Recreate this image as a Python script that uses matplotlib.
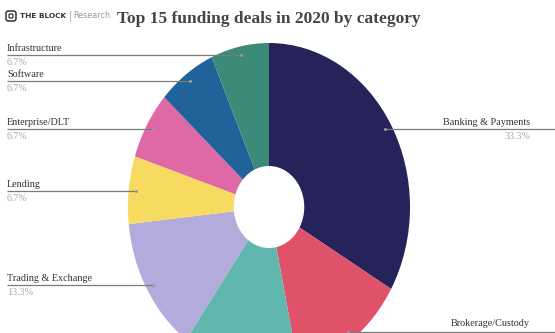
import matplotlib
matplotlib.use("Agg")
import matplotlib.pyplot as plt
import numpy as np
from matplotlib.patches import FancyBboxPatch

# Deal counts per category (15 deals in total), clockwise from 12 o'clock
categories = ["Banking & Payments", "Brokerage/Custody", "", "Trading & Exchange",
              "Lending", "Enterprise/DLT", "Software", "Infrastructure"]
deals = [5, 2, 2, 2, 1, 1, 1, 1]
pct_labels = ["33.3%", "13.3%", "13.3%", "13.3%", "6.7%", "6.7%", "6.7%", "6.7%"]
colors = ["#26235a", "#df526a", "#5fb7ae", "#b2abdc", "#f7da60",
          "#df68a7", "#20629a", "#3c8a78"]

W, H = 555, 333
fig = plt.figure(figsize=(W / 100, H / 100), dpi=100)
fig.patch.set_facecolor("white")

# Donut axes: slightly taller than wide, running off the bottom edge
cx, cy, rx, ry = 269, 207, 141, 164
ax = fig.add_axes([(cx - rx) / W, (H - cy - ry) / H, 2 * rx / W, 2 * ry / H])
wedges, _ = ax.pie(deals, colors=colors, startangle=90, counterclock=False,
                   radius=1, wedgeprops=dict(width=0.75, linewidth=0))
ax.set_aspect("auto")
ax.set_xlim(-1, 1)
ax.set_ylim(-1, 1)
ax.axis("off")

# Overlay in pixel coordinates (y measured from the top)
ov = fig.add_axes([0, 0, 1, 1])
ov.set_xlim(0, W)
ov.set_ylim(H, 0)
ov.axis("off")
ov.patch.set_alpha(0)

serif = ["Liberation Serif", "DejaVu Serif"]
name_col, pct_col, line_col = "#333333", "#a8a8a8", "#7a7a7a"

def to_px(x, y):
    dx, dy = ax.transData.transform((x, y))
    return dx, H - dy

total = sum(deals)
start = 90.0
for name, n, pct in zip(categories, deals, pct_labels):
    span = 360.0 * n / total
    mid = np.deg2rad(start - span / 2)
    start -= span
    if not name:
        continue
    px, py = to_px(0.95 * np.cos(mid), 0.95 * np.sin(mid))
    at_edge = py > H - 5
    py = min(py, H - 1.5)
    if np.cos(mid) < 0:
        ov.plot([7, px], [py, py], color=line_col, lw=0.9, solid_capstyle="butt")
        ov.text(7, py - 2, name, ha="left", va="bottom", fontsize=7.3,
                family=serif, color=name_col)
        ov.text(7, py + 3, pct, ha="left", va="top", fontsize=7.2,
                family=serif, color=pct_col)
    else:
        ov.plot([px, W], [py, py], color=line_col, lw=0.9, solid_capstyle="butt")
        ov.text(530, py - (4 if at_edge else 2.5), name, ha="right", va="bottom",
                fontsize=7.3, family=serif, color=name_col)
        # the value line of a label sitting on the bottom edge falls off the canvas
        if not at_edge:
            ov.text(530, py + 3, pct, ha="right", va="top", fontsize=7.2,
                    family=serif, color=pct_col)
    ov.plot(px, py, "o", ms=2.2, color="#9a9a9a", mec="none")

# Title
ov.text(269, 19, "Top 15 funding deals in 2020 by category", ha="center",
        va="center", fontsize=12.5, fontweight="bold", family=serif, color="#444444")

# Brand mark
ov.add_patch(FancyBboxPatch((6, 11), 10, 10, boxstyle="round,pad=0,rounding_size=2.5",
                            fc="none", ec="#333333", lw=1.1))
ov.add_patch(FancyBboxPatch((9, 14), 4, 4, boxstyle="round,pad=0,rounding_size=1",
                            fc="none", ec="#333333", lw=0.9))
brand = ov.text(20, 16, "THE BLOCK", ha="left", va="center", fontsize=5.3,
                fontweight="bold", family="DejaVu Sans", color="#333333")
fig.canvas.draw()
bb = brand.get_window_extent()
x_end = bb.x1
ov.plot([x_end + 4, x_end + 4], [11, 21], color="#bbbbbb", lw=0.8)
ov.text(x_end + 7, 16, "Research", ha="left", va="center", fontsize=5.8,
        family="DejaVu Sans", color="#9a9a9a")

fig.savefig("out.png", dpi=100, facecolor="white")
